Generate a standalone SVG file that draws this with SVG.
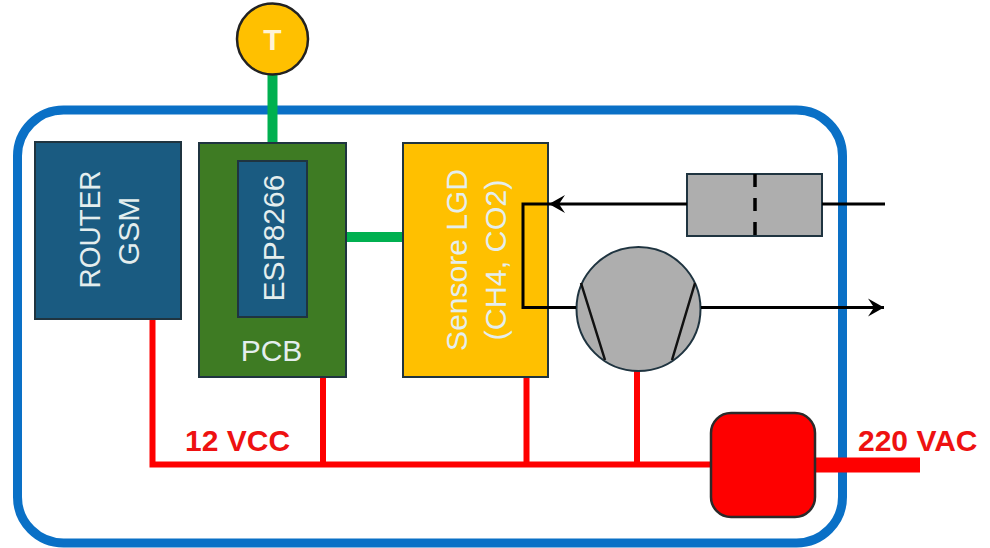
<svg xmlns="http://www.w3.org/2000/svg" width="990" height="548" viewBox="0 0 990 548">
<defs>
<style>
.lbl{font-family:"Liberation Sans",Arial,sans-serif;fill:#e4eeee;font-size:30px;text-anchor:middle}
.box{stroke:#1f3440;stroke-width:2}
.red{fill:none;stroke:#fe0000;stroke-width:6}
.grn{fill:none;stroke:#00b050;stroke-width:10}
.air{fill:none;stroke:#000;stroke-width:3}
.tag{font-family:"Liberation Sans",Arial,sans-serif;font-weight:700;fill:#ee1111;font-size:30px}
</style>
<marker id="arr" viewBox="0 0 20 20" refX="18" refY="10" markerUnits="userSpaceOnUse" markerWidth="20" markerHeight="20" orient="auto">
<path d="M2 1L18 10L2 19L8 10Z" fill="#000"/>
</marker>
</defs>
<rect x="0" y="0" width="990" height="548" fill="#fff"/>
<g id="enclosure"><rect x="17.500" y="110" width="825" height="433" rx="46" ry="46" fill="#fff" stroke="#0a70c6" stroke-width="9"/></g>
<g id="connectors">
<path class="grn" d="M272.500 70V143"/>
<path class="grn" d="M345 237H403"/>
<path class="red" d="M152.500 320V464.500H712"/>
<path class="red" d="M323 377V464"/>
<path class="red" d="M526.500 377V464"/>
<path class="red" d="M637 371V464"/>
<path d="M815 465H920" fill="none" stroke="#fe0000" stroke-width="15"/>
</g>
<g id="router"><rect class="box" x="35" y="142" width="146" height="177" fill="#1a5b81"/>
<text class="lbl" transform="translate(100 229.500) rotate(-90)" textLength="118" lengthAdjust="spacingAndGlyphs">ROUTER</text>
<text class="lbl" transform="translate(139 231) rotate(-90)">GSM</text></g>
<g id="pcb"><rect class="box" x="199" y="143" width="147" height="234" fill="#3e7b23"/>
<text class="lbl" x="271.500" y="361">PCB</text></g>
<g id="esp"><rect class="box" x="238" y="161" width="69" height="156" fill="#1a5b81"/>
<text class="lbl" transform="translate(284 238) rotate(-90)">ESP8266</text></g>
<g id="sensor"><rect class="box" x="403" y="143" width="145" height="234" fill="#ffc000"/>
<text class="lbl" transform="translate(467 260) rotate(-90)">Sensore LGD</text>
<text class="lbl" transform="translate(506 260) rotate(-90)" textLength="161" lengthAdjust="spacingAndGlyphs">(CH4, CO2)</text></g>
<g id="filter"><rect class="box" x="687" y="174" width="135" height="62" fill="#aeaeae"/>
<path d="M755 174V236" fill="none" stroke="#000" stroke-width="3.500" stroke-dasharray="13 11"/></g>
<g id="pump"><circle class="box" cx="638.500" cy="309" r="62" fill="#aeaeae"/>
<path d="M581 283L605 360M695 283L672 360" fill="none" stroke="#111" stroke-width="2.500"/></g>
<g id="psu"><rect x="711" y="413" width="104" height="104" rx="20" ry="20" fill="#fe0000" stroke="#2a2a2a" stroke-width="2.500"/></g>
<g id="thermo"><circle cx="272.500" cy="39" r="35.500" fill="#ffc000" stroke="#222" stroke-width="2.500"/>
<text x="272.500" y="50" font-family="'Liberation Sans',Arial,sans-serif" font-weight="700" font-size="30" fill="#fff4d6" text-anchor="middle">T</text></g>
<g id="air">
<path class="air" d="M885 204H822"/>
<path class="air" d="M687 204H549" marker-end="url(#arr)"/>
<path class="air" d="M549 204H523V307.500H576"/>
<path class="air" d="M701 307.500H884" marker-end="url(#arr)"/>
</g>
<g id="labels">
<text class="tag" x="185" y="450.500">12 VCC</text>
<text class="tag" x="858" y="450.500">220 VAC</text>
</g>
</svg>
